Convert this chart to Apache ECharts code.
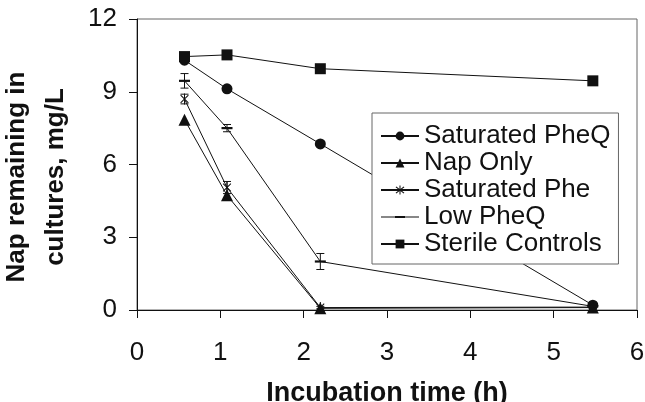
<!DOCTYPE html>
<html>
<head>
<meta charset="utf-8">
<script src="https://cdn.jsdelivr.net/npm/echarts@6/dist/echarts.min.js"></script>
<style>
  html, body { margin: 0; padding: 0; background: #fff; }
  #chart { width: 645px; height: 402px; }
</style>
</head>
<body>
<div id="chart"></div>
<script>
// sampling times (h)
var times = [0.57, 1.08, 2.2, 5.47]
// Nap remaining, mg/L
var satPheQ = [10.3, 9.12, 6.85, 0.2]
var napOnly = [7.85, 4.73, 0.07, 0.1]
var satPhe = [8.7, 5.05, 0.1, 0.12]
var lowPheQ = [9.45, 7.5, 2.0, 0.15]
var sterile = [10.45, 10.52, 9.95, 9.45]
// error bar half widths
var lowPheQErr = [0.3, 0.15, 0.33, 0.05]
var satPheErr = [0.2, 0.25, 0.05, 0.05]

var xTicks = [0, 1, 2, 3, 4, 5, 6]
var yTicks = [0, 3, 6, 9, 12]

var ink = '#111'
var font = 'Arial, "Liberation Sans", sans-serif'
// asterisk: vertical bar plus an X
var asterisk = 'path://M-0.09,-1L0.09,-1L0.09,1L-0.09,1Z' +
  'M-0.77,-0.64L-0.64,-0.77L0.77,0.64L0.64,0.77Z' +
  'M0.64,-0.77L0.77,-0.64L-0.64,0.77L-0.77,0.64Z'
// short flat dash
var dash = 'path://M0,0L10,0L10,2L0,2Z'
// legend icon for the dash series: thin line with the dash in the middle (38 x 11 box)
var dashIcon = 'path://M0,0L0.01,0L0,0.01Z M38,11L37.99,11L38,10.99Z' +
  'M0,5L38,5L38,6L0,6Z M14,4.5L24,4.5L24,6.5L14,6.5Z'

function pairs(ys) {
  return times.map(function (t, i) { return [t, ys[i]] })
}

function errData(ys, errs) {
  return times.map(function (t, i) { return [t, ys[i] - errs[i], ys[i] + errs[i]] })
}

function errSeries(ys, errs) {
  return {
    type: 'custom',
    silent: true,
    z: 1,
    data: errData(ys, errs),
    renderItem: function (params, api) {
      var lo = api.coord([api.value(0), api.value(1)])
      var hi = api.coord([api.value(0), api.value(2)])
      var w = 4
      var style = { stroke: ink, lineWidth: 1 }
      return {
        type: 'group',
        children: [
          { type: 'line', shape: { x1: lo[0], y1: lo[1], x2: hi[0], y2: hi[1] }, style: style },
          { type: 'line', shape: { x1: lo[0] - w, y1: lo[1], x2: lo[0] + w, y2: lo[1] }, style: style },
          { type: 'line', shape: { x1: hi[0] - w, y1: hi[1], x2: hi[0] + w, y2: hi[1] }, style: style }
        ]
      }
    }
  }
}

function lineSeries(name, ys, symbol, size) {
  return {
    name: name,
    type: 'line',
    data: pairs(ys),
    symbol: symbol,
    symbolSize: size,
    symbolKeepAspect: true,
    showAllSymbol: true,
    lineStyle: { color: ink, width: 1 },
    itemStyle: { color: ink, borderWidth: 0 },
    emphasis: { disabled: true },
    animation: false,
    z: 2
  }
}

var chart = echarts.init(document.getElementById('chart'), null, { renderer: 'canvas' })
chart.setOption({
  backgroundColor: '#fff',
  animation: false,
  textStyle: { fontFamily: font, color: ink },
  grid: {
    left: 137, right: 8, top: 19, bottom: 92,
    outerBoundsMode: 'none',
    containLabel: false,
    show: true, borderColor: '#666', borderWidth: 1
  },
  legend: {
    orient: 'vertical',
    left: 372, top: 113,
    width: 247,
    padding: [10, 8, 7, 8],
    itemGap: 1,
    itemWidth: 38,
    itemHeight: 11,
    symbolKeepAspect: true,
    backgroundColor: '#fff',
    borderColor: '#666',
    borderWidth: 1,
    z: 10,
    textStyle: { fontSize: 26, lineHeight: 24, color: ink, fontFamily: font },
    data: [
      'Saturated PheQ',
      'Nap Only',
      'Saturated Phe',
      { name: 'Low PheQ', icon: dashIcon },
      'Sterile Controls'
    ]
  },
  xAxis: {
    type: 'value',
    min: xTicks[0], max: xTicks[xTicks.length - 1], interval: 1,
    name: 'Incubation time (h)',
    nameLocation: 'middle',
    nameGap: 70,
    nameTextStyle: { fontSize: 27, fontWeight: 'bold', color: ink, fontFamily: font },
    axisLine: { onZero: false, lineStyle: { color: ink, width: 1 } },
    axisTick: { show: true, length: 8, lineStyle: { color: ink } },
    axisLabel: { fontSize: 26, color: ink, margin: 30, fontFamily: font },
    splitLine: { show: false }
  },
  yAxis: {
    type: 'value',
    min: yTicks[0], max: yTicks[yTicks.length - 1], interval: 3,
    name: 'Nap remaining in\ncultures, mg/L',
    nameLocation: 'middle',
    nameRotate: 90,
    nameGap: 62,
    nameTextStyle: {
      fontSize: 26, fontWeight: 'bold', color: ink, lineHeight: 39, fontFamily: font,
      padding: [0, 25, 0, 0]
    },
    axisLine: { show: true, lineStyle: { color: ink, width: 1 } },
    axisTick: { show: true, length: 8, lineStyle: { color: ink } },
    axisLabel: { fontSize: 26, color: ink, margin: 20, fontFamily: font },
    splitLine: { show: false }
  },
  series: [
    errSeries(lowPheQ, lowPheQErr),
    errSeries(satPhe, satPheErr),
    lineSeries('Saturated PheQ', satPheQ, 'circle', 11),
    lineSeries('Nap Only', napOnly, 'triangle', 12),
    lineSeries('Saturated Phe', satPhe, asterisk, 11),
    lineSeries('Low PheQ', lowPheQ, dash, 11),
    lineSeries('Sterile Controls', sterile, 'rect', 11)
  ]
})
</script>
</body>
</html>
